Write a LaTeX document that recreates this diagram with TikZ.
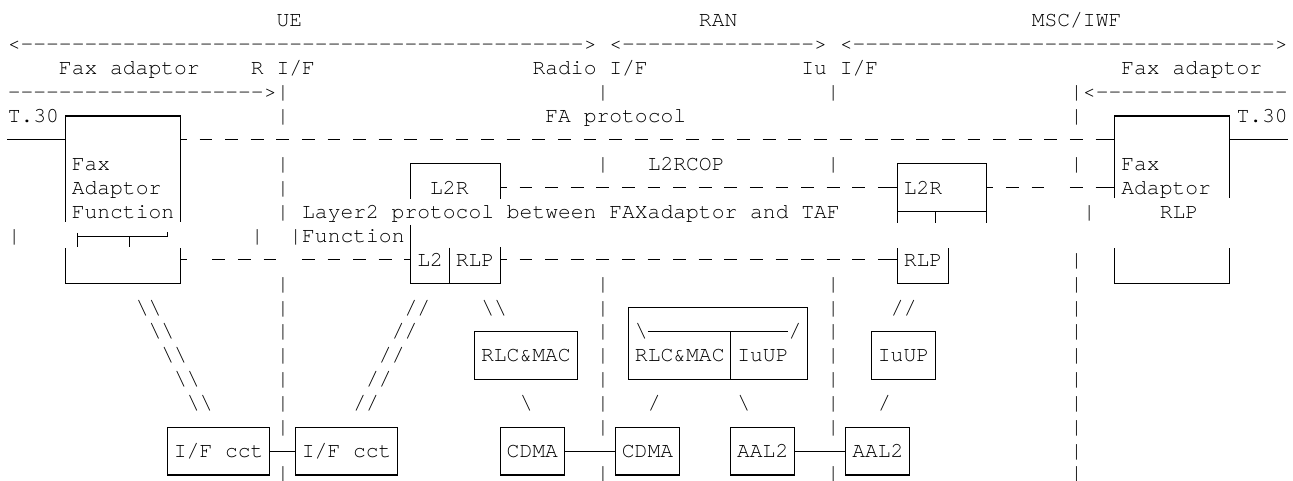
\documentclass[tikz,border=0pt]{standalone}
\usepackage{fontspec}
\setmonofont{TeX Gyre Cursor}
\ExplSyntaxOn
\cs_new:Npn \myrep #1#2 { \prg_replicate:nn {#1} {#2} }
\ExplSyntaxOff
\newcommand\lbl[4]{\node[lab] (#1) at (#2,#3) {#4};}
\newcommand\pipeat[2]{\node[lab] (p#1-#2) at (#1,#2) {|};}
\begin{document}
\begin{tikzpicture}[x=9.6pt,y=-17.9475pt,
  lab/.style={font=\ttfamily\fontsize{16}{16}\selectfont, inner sep=0pt, text height=9.9pt, text depth=0pt, anchor=west},
  ln/.style={line width=0.8pt},
  dsh/.style={line width=0.8pt, dash pattern=on 9.6pt off 9.6pt, dash phase=9.6pt},
  cbox/.style={draw, line width=0.8pt, font=\ttfamily\fontsize{16}{16}\selectfont, inner sep=0pt, text height=9.9pt, text depth=0pt, minimum height=35.895pt, minimum width=48pt},
  wide/.style={minimum width=76.8pt}]
\useasboundingbox (-0.5859,-0.8483) rectangle (100.4297,19.2520);

% ---- headings and arrows ----
\lbl{ue}{21}{0}{UE}
\lbl{ran}{54}{0}{RAN}
\lbl{msc}{80}{0}{MSC/IWF}
\lbl{arUE}{0}{1}{<\myrep{44}{-}>}
\lbl{arRAN}{47}{1}{<\myrep{15}{-}>}
\lbl{arMSC}{65}{1}{<\myrep{33}{-}>}
\lbl{faL}{4}{2}{Fax adaptor}
\lbl{rif}{19}{2}{R I/F}
\lbl{radif}{41}{2}{Radio I/F}
\lbl{iuif}{62}{2}{Iu I/F}
\lbl{faR}{87}{2}{Fax adaptor}
\lbl{arFL}{0}{3}{\myrep{20}{-}>}
\lbl{arFR}{83}{3}{|<\myrep{15}{-}}
\lbl{t30L}{0}{4}{T.30}
\lbl{fap}{42}{4}{FA protocol}
\lbl{t30R}{96}{4}{T.30}

% ---- interface lines ----
\foreach \r in {3,4,6,7,8,11,12,13,14,15,16,17} {\pipeat{21}{\r}}
\foreach \r in {3,6,11,12,13,14,15,16,17} {\pipeat{46}{\r}}
\foreach \r in {3,6,11,12,13,14,15,16,17} {\pipeat{64}{\r}}
\foreach \r in {4,6,10,11,12,13,14,15,16,17,18} {\pipeat{83}{\r}}
\foreach \c in {21,46,64,83} {\node[lab] (p\c-19) at (\c,18.9) {|};}
\pipeat{0}{9}
\pipeat{19}{9}
\pipeat{22}{9}
\pipeat{84}{8}

% ---- left fax adaptor box ----
\draw[ln] (4.5,8.42) -- (4.5,4) -- (13.5,4) -- (13.5,8.42);
\draw[ln] (4.5,9.53) -- (4.5,11) -- (13.5,11) -- (13.5,9.53);
\coordinate (t30Lend) at (0,5);
\coordinate (faxLw) at (4.5,5);
\draw[ln] (t30Lend) -- (faxLw);
\draw[ln] (13.5,5) -- (14,5);
\draw[ln] (13.5,10) -- (14,10);
\draw[ln] (5.5,8.88) -- (5.5,9.47);
\draw[ln] (5.5,9.05) -- (12.5,9.05) -- (12.5,8.83);
\draw[ln] (9.5,9.05) -- (9.5,9.47);
\lbl{faxL1}{5}{6}{Fax}
\lbl{faxL2}{5}{7}{Adaptor}
\lbl{faxL3}{5}{8}{Function}

% ---- right fax adaptor box ----
\draw[ln] (86.5,7.43) -- (86.5,4) -- (95.5,4) -- (95.5,7.43);
\draw[ln] (86.5,9.53) -- (86.5,11) -- (95.5,11) -- (95.5,9.53);
\coordinate (faxRe) at (95.5,5);
\coordinate (t30Rend) at (100,5);
\draw[ln] (faxRe) -- (t30Rend);
\lbl{faxR1}{87}{6}{Fax}
\lbl{faxR2}{87}{7}{Adaptor}
\lbl{rlpR}{90}{8}{RLP}

% ---- FA protocol line ----
\draw[dsh] (14,5) -- (86,5);
\draw[ln] (86,5) -- (86.5,5);

% ---- left L2R / L2 / RLP ----
\draw[ln] (31.5,7.45) -- (31.5,6) -- (38.5,6) -- (38.5,7.45);
\draw[ln] (31.5,8.55) -- (31.5,11) -- (38.5,11) -- (38.5,9.47);
\draw[ln] (34.5,9.5) -- (34.5,11);
\draw[ln] (38.5,7) -- (39,7);
\draw[ln] (38.5,10) -- (39,10);
\draw[ln] (31,10) -- (31.5,10);
\lbl{l2rA}{33}{7}{L2R}
\lbl{l2}{32}{10}{L2}
\lbl{rlpA}{35}{10}{RLP}
\lbl{layer2}{23}{8}{Layer2 protocol between FAXadaptor and TAF}
\lbl{func}{23}{9}{Function}
\lbl{l2rcop}{50}{6}{L2RCOP}

% ---- right L2R / RLP ----
\draw[ln] (69.5,8.47) -- (69.5,6) -- (76.5,6) -- (76.5,8.47);
\draw[ln] (69.5,8) -- (76.5,8);
\draw[ln] (72.5,8) -- (72.5,8.47);
\draw[ln] (69,7) -- (69.5,7);
\draw[ln] (76.5,7) -- (77,7);
\draw[ln] (69.5,9.53) -- (69.5,11) -- (73.5,11) -- (73.5,9.53);
\draw[ln] (69,10) -- (69.5,10);
\lbl{l2rB}{70}{7}{L2R}
\lbl{rlpB}{70}{10}{RLP}

% ---- dashed peer-protocol lines ----
\draw[dsh] (39,7) -- (69,7);
\draw[dsh] (77,7) -- (81,7);
\draw[ln] (83,7) -- (84,7);
\draw[ln] (85,7) -- (86.5,7);
\draw[dsh] (15,10) -- (21,10);
\draw[dsh] (22,10) -- (30,10);
\draw[dsh] (39,10) -- (69,10);

% ---- slashes ----
\lbl{s1}{10}{12}{\textbackslash\textbackslash}
\lbl{s2}{11}{13}{\textbackslash\textbackslash}
\lbl{s3}{12}{14}{\textbackslash\textbackslash}
\lbl{s4}{13}{15}{\textbackslash\textbackslash}
\lbl{s5}{14}{16}{\textbackslash\textbackslash}
\lbl{f1}{31}{12}{//}
\lbl{f2}{30}{13}{//}
\lbl{f3}{29}{14}{//}
\lbl{f4}{28}{15}{//}
\lbl{f5}{27}{16}{//}
\lbl{s6}{37}{12}{\textbackslash\textbackslash}
\lbl{f6}{69}{12}{//}
\lbl{s7}{49}{13}{\textbackslash}
\lbl{f7}{61}{13}{/}
\lbl{s8}{40}{16}{\textbackslash}
\lbl{f8}{50}{16}{/}
\lbl{s9}{57}{16}{\textbackslash}
\lbl{f9}{68}{16}{/}

% ---- RLC&MAC / IuUP ----
\node[draw, line width=0.8pt, inner sep=0pt, minimum width=134.4pt, minimum height=53.8425pt] (big) at (55.5,13.5) {};
\draw[ln] (50,13) -- (61,13);
\draw[ln] (56.5,13) -- (56.5,15);
\lbl{rlcB}{49}{14}{RLC\&MAC}
\lbl{iuupB}{57}{14}{IuUP}
\node[cbox,wide] (rlcA) at (40.5,14) {RLC\&MAC};
\node[cbox] (iuupA) at (70,14) {IuUP};

% ---- bottom boxes ----
\node[cbox,wide] (ifa) at (16.5,18) {I/F cct};
\node[cbox,wide] (ifb) at (26.5,18) {I/F cct};
\node[cbox] (cdmaA) at (41,18) {CDMA};
\node[cbox] (cdmaB) at (50,18) {CDMA};
\node[cbox] (aalA) at (59,18) {AAL2};
\node[cbox] (aalB) at (68,18) {AAL2};
\draw[ln] (ifa.east) -- (ifb.west);
\draw[ln] (cdmaA.east) -- (cdmaB.west);
\draw[ln] (aalA.east) -- (aalB.west);
\end{tikzpicture}
\end{document}
